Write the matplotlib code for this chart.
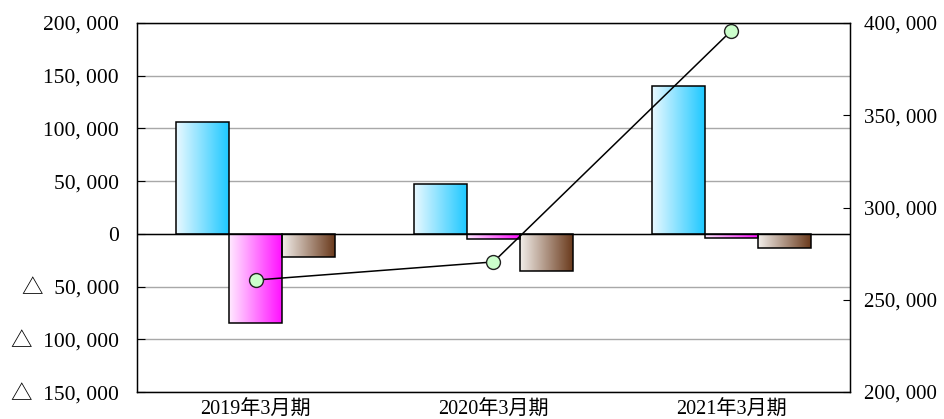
import numpy as np
import matplotlib.pyplot as plt
from matplotlib.colors import LinearSegmentedColormap
from matplotlib.ticker import FuncFormatter, MultipleLocator

# data (千円 approx)
periods = ["2019年3月期", "2020年3月期", "2021年3月期"]
series_a = [106000, 47000, 140000]     # blue bars
series_b = [-85000, -5000, -4000]      # magenta bars
series_c = [-22000, -35000, -13000]    # brown bars
line_vals = [260700, 270500, 395700]   # right axis line

plt.rcParams['font.family'] = ['Liberation Serif', 'Noto Sans CJK JP', 'DejaVu Sans']
plt.rcParams['font.size'] = 15.5


def fmt_left(v, pos):
    s = f"{abs(int(round(v))):,}".replace(",", ", ")
    return "△  " + s if v < 0 else s


def fmt_right(v, pos):
    return f"{int(round(v)):,}".replace(",", ", ")


cmaps = [
    LinearSegmentedColormap.from_list("blu", ["#eaf9ff", "#1ec8ff"]),
    LinearSegmentedColormap.from_list("mag", ["#ffeaff", "#ff10ff"]),
    LinearSegmentedColormap.from_list("brn", ["#f2eeea", "#6a3a1c"]),
]

fig = plt.figure(figsize=(9.44, 4.19), dpi=100)
ax = fig.add_axes([0.1451, 0.0644, 0.7553, 0.8807])

x = np.arange(len(periods))
w = 0.223
grad = np.linspace(0, 1, 256).reshape(1, -1)
for i, vals in enumerate([series_a, series_b, series_c]):
    bars = ax.bar(x + (i - 1) * w, vals, w, facecolor="none",
                  edgecolor="black", linewidth=1.1, zorder=3)
    for b in bars:
        x0, y0 = b.get_xy()
        y1 = y0 + b.get_height()
        im = ax.imshow(grad, extent=[x0, x0 + b.get_width(), min(y0, y1), max(y0, y1)],
                       aspect="auto", cmap=cmaps[i], zorder=2)
        im.set_clip_path(b)

ax.set_xlim(-0.5, 2.5)
ax.set_ylim(-150000, 200000)
ax.yaxis.set_major_locator(MultipleLocator(50000))
ax.yaxis.set_major_formatter(FuncFormatter(fmt_left))
ax.set_xticks(x)
ax.set_xticklabels(periods, fontsize=14.5)
ax.tick_params(axis="x", length=0, pad=6)
ax.tick_params(axis="y", direction="in", length=6, pad=13)
ax.grid(axis="y", color="#a8a8a8", linewidth=1, zorder=0)
ax.axhline(0, color="black", linewidth=1, zorder=2.5)
for sp in ax.spines.values():
    sp.set_linewidth(1)

ax2 = ax.twinx()
ax2.plot(x, line_vals, color="black", linewidth=1.1, marker="o", markersize=10,
         markerfacecolor="#ccffcc", markeredgecolor="#222222", markeredgewidth=1)
ax2.set_ylim(200000, 400000)
ax2.yaxis.set_major_locator(MultipleLocator(50000))
ax2.yaxis.set_major_formatter(FuncFormatter(fmt_right))
ax2.tick_params(axis="y", direction="in", length=5, pad=10, labelsize=15)

fig.savefig("out.png", dpi=100)
